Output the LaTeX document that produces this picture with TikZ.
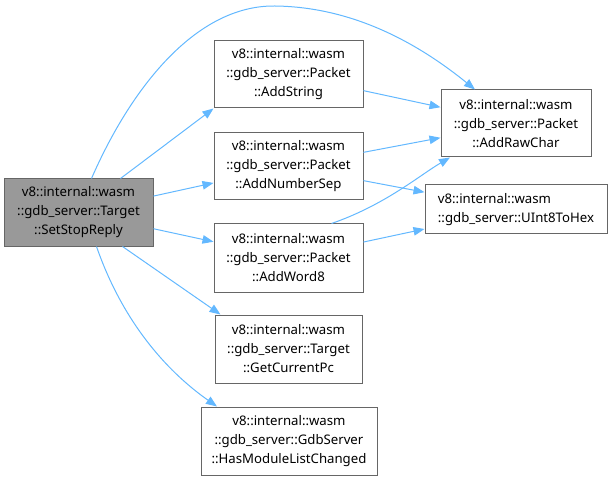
\documentclass[tikz,border=0pt]{standalone}
\usepackage{fontspec}
\setmainfont{Noto Sans}
\usetikzlibrary{arrows.meta}
\definecolor{edgeblue}{HTML}{63B8FF}
\definecolor{boxborder}{HTML}{666666}
\definecolor{boxgray}{HTML}{999999}
\tikzset{
  fn/.style={draw=boxborder, line width=1pt, fill=white, inner sep=0pt, align=center,
    font=\fontsize{13.2}{19}\selectfont},
  cur/.style={fn, fill=boxgray},
  call/.style={draw=edgeblue, line width=1pt, -{Triangle[length=11pt,width=8.5pt]}}
}
\begin{document}
\begin{tikzpicture}[x=1pt,y=-1pt]
\useasboundingbox (0,0) rectangle (613,481);
\node[cur, minimum width=149pt, minimum height=67pt] (ssr) at (78.5,212.5) {v8::internal::wasm\\::gdb\_server::Target\\::SetStopReply};
\node[fn, minimum width=149pt, minimum height=67pt] (as) at (288.5,74.5) {v8::internal::wasm\\::gdb\_server::Packet\\::AddString};
\node[fn, minimum width=149pt, minimum height=67pt] (ans) at (288.5,166.5) {v8::internal::wasm\\::gdb\_server::Packet\\::AddNumberSep};
\node[fn, minimum width=149pt, minimum height=68pt] (aw) at (288.5,258) {v8::internal::wasm\\::gdb\_server::Packet\\::AddWord8};
\node[fn, minimum width=147pt, minimum height=68pt] (gcp) at (288.5,349) {v8::internal::wasm\\::gdb\_server::Target\\::GetCurrentPc};
\node[fn, minimum width=176pt, minimum height=68pt] (hml) at (289,441) {v8::internal::wasm\\::gdb\_server::GdbServer\\::HasModuleListChanged};
\node[fn, minimum width=150pt, minimum height=67pt] (arc) at (516,123.5) {v8::internal::wasm\\::gdb\_server::Packet\\::AddRawChar};
\node[fn, minimum width=182pt, minimum height=49pt, align=left] (hex) at (516,209.5) {v8::internal::wasm\\::gdb\_server::UInt8ToHex};

\draw[call] ([xshift=13pt]ssr.north) .. controls (130,90) and (195,5) .. (275,6) .. controls (355,7) and (420,45) .. ([xshift=-41pt]arc.north);
\draw[call] ([xshift=42pt]ssr.north) -- (as.south west);
\draw[call] (ssr) -- (ans);
\draw[call] (ssr) -- (aw);
\draw[call] ([xshift=44pt]ssr.south) -- ([xshift=-68pt]gcp.north);
\draw[call] ([xshift=18pt]ssr.south) .. controls (122,320) and (165,370) .. ([xshift=-72pt]hml.north);
\draw[call] (as) -- (arc);
\draw[call] (ans) -- (arc);
\draw[call] (ans) -- (hex);
\draw[call] ([xshift=-32pt]aw.north east) .. controls (385,205) and (420,175) .. ([xshift=-66pt]arc.south);
\draw[call] (aw) -- (hex);
\end{tikzpicture}
\end{document}
